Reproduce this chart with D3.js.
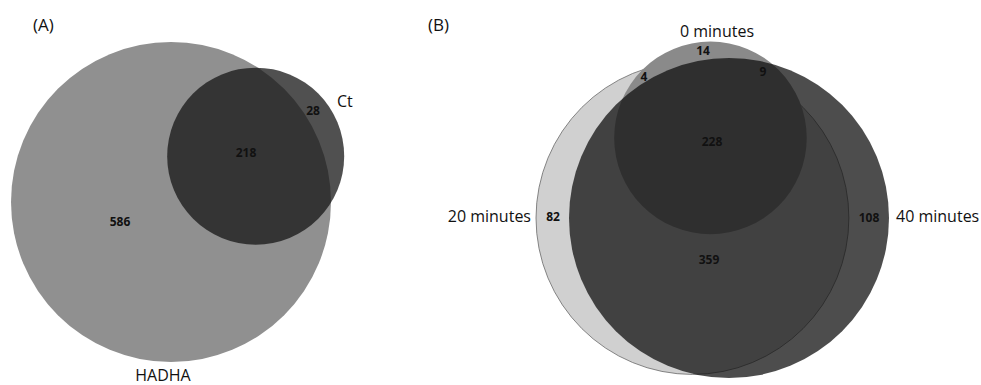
<!DOCTYPE html>
<html>
<head>
<meta charset="utf-8">
<script src="https://cdn.jsdelivr.net/npm/d3@7"></script>
<style>
  body { margin: 0; background: #fff; }
  text { font-family: "Open Sans", sans-serif; }
  .lab { font-size: 16px; fill: #111; }
  .num { font-size: 12px; font-weight: bold; fill: #111; }
</style>
</head>
<body>
<script>
"use strict";

// ---- data (A) ----
let setsA = ["HADHA", "Ct"];
let onlyA = [586, 28];
let bothA = 218;

// ---- data (B) ----
let setsB = ["0 minutes", "20 minutes", "40 minutes"];
let onlyB = [14, 82, 108];
let pairB = [4, 9, 359];      // 0&20, 0&40, 20&40 (not in the third)
let allB = 228;

let svg = d3.select("body").append("svg").attr("width", 981).attr("height", 385);

// area of the lens made by two circles at distance d
let lens = (r1, r2, d) => {
    if (d >= r1 + r2) return 0;
    if (d <= Math.abs(r1 - r2)) return Math.PI * Math.min(r1, r2) ** 2;
    let a = r1 * r1 * Math.acos((d * d + r1 * r1 - r2 * r2) / (2 * d * r1));
    let b = r2 * r2 * Math.acos((d * d + r2 * r2 - r1 * r1) / (2 * d * r2));
    let c = 0.5 * Math.sqrt((-d + r1 + r2) * (d + r1 - r2) * (d - r1 + r2) * (d + r1 + r2));
    return a + b - c;
};
// distance that gives the wanted overlap area
let solveDist = (r1, r2, area) => {
    let lo = Math.abs(r1 - r2), hi = r1 + r2;
    for (let i = 0; i < 60; i++) {
        let mid = (lo + hi) / 2;
        if (lens(r1, r2, mid) > area) lo = mid; else hi = mid;
    }
    return (lo + hi) / 2;
};

// ---------- panel A ----------
let totA = [onlyA[0] + bothA, onlyA[1] + bothA];
let rA = d3.scaleSqrt().domain([0, d3.max(totA)]).range([0, 160]);
let dA = solveDist(rA(totA[0]), rA(totA[1]), Math.PI * rA(bothA) ** 2);
let angA = Math.atan2(-46, 85);
let cA = [{x: 171, y: 202}];
cA.push({x: cA[0].x + dA * Math.cos(angA), y: cA[0].y + dA * Math.sin(angA)});

let gA = svg.append("g");
gA.selectAll("circle")
    .data(totA)
    .enter()
    .append("circle")
    .attr("cx", (d, i) => cA[i].x)
    .attr("cy", (d, i) => cA[i].y)
    .attr("r", d => rA(d))
    .attr("fill", (d, i) => i == 0 ? "#909090" : "#151515")
    .attr("fill-opacity", (d, i) => i == 0 ? 1 : 0.75);

// ---------- panel B ----------
let totB = [
    onlyB[0] + pairB[0] + pairB[1] + allB,
    onlyB[1] + pairB[0] + pairB[2] + allB,
    onlyB[2] + pairB[1] + pairB[2] + allB
];
let rB = d3.scaleSqrt().domain([0, d3.max(totB)]).range([0, 160]);
let r0 = rB(totB[0]), r20 = rB(totB[1]), r40 = rB(totB[2]);
let d02 = solveDist(r0, r20, Math.PI * rB(pairB[0] + allB) ** 2);
let d04 = solveDist(r0, r40, Math.PI * rB(pairB[1] + allB) ** 2);
let d24 = solveDist(r20, r40, Math.PI * rB(pairB[2] + allB) ** 2);

let c40 = {x: 729, y: 218};
let c20 = {x: c40.x - d24, y: c40.y};
let px = (d02 * d02 - d04 * d04 + d24 * d24) / (2 * d24);
let py = Math.sqrt(Math.max(0, d02 * d02 - px * px));
let c0 = {x: c20.x + px, y: c20.y - py};

// drawing order: 20, 0, 40
let circB = [
    {c: c20, r: r20, fill: "#d0d0d0", op: 1, stroke: "#6a6a6a"},
    {c: c0, r: r0, fill: "#8a8a8a", op: 1, stroke: "none"},
    {c: c40, r: r40, fill: "#101010", op: 0.745, stroke: "none"}
];
let gB = svg.append("g");
gB.selectAll("circle")
    .data(circB)
    .enter()
    .append("circle")
    .attr("cx", d => d.c.x)
    .attr("cy", d => d.c.y)
    .attr("r", d => d.r)
    .attr("fill", d => d.fill)
    .attr("fill-opacity", d => d.op)
    .attr("stroke", d => d.stroke)
    .attr("stroke-width", 0.8);

// ---------- labels ----------
let labels = [
    {t: "(A)", x: 33, y: 31, a: "start", s: 17},
    {t: setsA[0], x: 163, y: 381, a: "middle", s: 16},
    {t: setsA[1], x: 337, y: 107, a: "start", s: 16},
    {t: "(B)", x: 428, y: 31, a: "start", s: 17},
    {t: setsB[0], x: 717, y: 37, a: "middle", s: 16},
    {t: setsB[1], x: 531, y: 222, a: "end", s: 16},
    {t: setsB[2], x: 896, y: 222, a: "start", s: 16}
];
svg.append("g").selectAll("text")
    .data(labels)
    .enter()
    .append("text")
    .attr("class", "lab")
    .attr("x", d => d.x)
    .attr("y", d => d.y)
    .attr("text-anchor", d => d.a)
    .style("font-size", d => d.s + "px")
    .text(d => d.t);

let nums = [
    {v: onlyA[0], x: 120, y: 226},
    {v: bothA, x: 246, y: 157},
    {v: onlyA[1], x: 313, y: 115},
    {v: onlyB[0], x: 703, y: 55},
    {v: pairB[0], x: 644, y: 81},
    {v: pairB[1], x: 763, y: 76},
    {v: allB, x: 712, y: 146},
    {v: pairB[2], x: 709, y: 264},
    {v: onlyB[1], x: 553, y: 221},
    {v: onlyB[2], x: 869, y: 222}
];
svg.append("g").selectAll("text")
    .data(nums)
    .enter()
    .append("text")
    .attr("class", "num")
    .attr("x", d => d.x)
    .attr("y", d => d.y)
    .attr("text-anchor", "middle")
    .text(d => d.v);
</script>
</body>
</html>
